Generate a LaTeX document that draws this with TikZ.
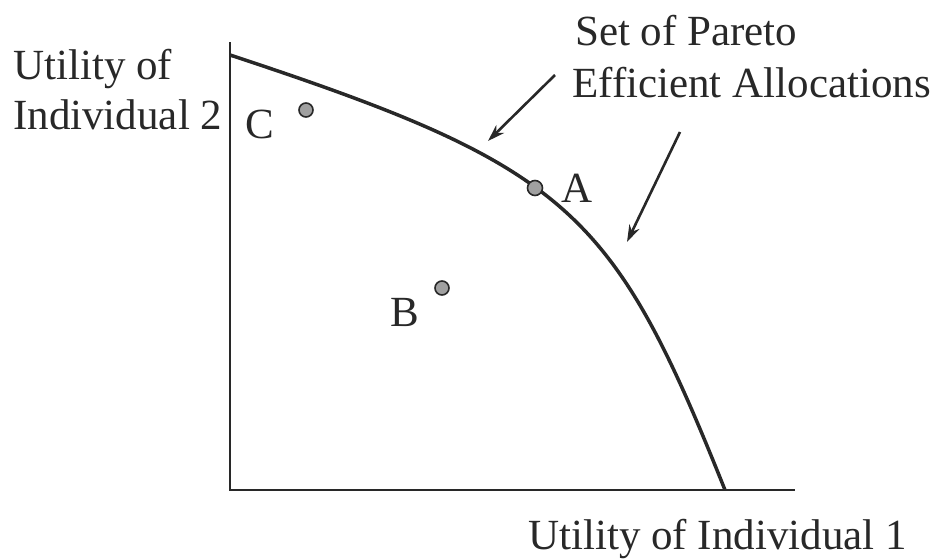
\documentclass[tikz,border=0pt]{standalone}
\usepackage{fontspec}
\setmainfont{Liberation Serif}
\usepackage{tikz}
\usetikzlibrary{arrows.meta,positioning}
\definecolor{inkdark}{RGB}{40,40,40}
\definecolor{dotgray}{RGB}{160,160,160}

\begin{document}
\begin{tikzpicture}[x=1pt,y=-1pt,>={Stealth[length=17pt,width=11pt]},
    every node/.style={font=\fontsize{43}{50}\selectfont,text=inkdark,inner sep=0pt},
    axisline/.style={draw=inkdark,line width=2pt},
    frontier/.style={draw=inkdark,line width=3.5pt},
    alloc/.style={circle,draw=inkdark,fill=dotgray,line width=1.6pt,minimum size=15pt},
    pointer/.style={->,draw=inkdark,line width=2.6pt}]
  \useasboundingbox (0,0) rectangle (938,560);
  % axes
  \coordinate (origin) at (230,490);
  \coordinate (ytop) at (230,42);
  \coordinate (xend) at (795,490);
  \draw[axisline] (ytop) -- (origin) -- (xend);
  % frontier
  \coordinate (ftop) at (230,55);
  \coordinate (fbot) at (725,490);
  \draw[frontier] (ftop) .. controls (570,167) and (613,210) .. (fbot);
  % allocations
  \node[alloc] (dotA) at (535,188) {};
  \node[alloc,minimum size=14pt] (dotB) at (442,288) {};
  \node[alloc,minimum size=14pt] (dotC) at (306,110) {};
  \node (labA) at (577,188) {A};
  \node (labB) at (405,312) {B};
  \node (labC) at (260,124) {C};
  % axis titles
  \node[anchor=base west] (ytitle) at (13,79) {Utility of};
  \node[anchor=base west] (ytitle2) at (13,129) {Individual 2};
  \node[anchor=base west] (xtitle) at (528,549) {Utility of Individual 1};
  % caption and arrows
  \node[anchor=base west] (cap1) at (575,45) {Set of Pareto};
  \node[anchor=base west] (cap2) at (572,97) {Efficient Allocations};
  \coordinate (tail1) at (555,75);
  \coordinate (tip1) at (488,141);
  \coordinate (tail2) at (680,132);
  \coordinate (tip2) at (627,242);
  \draw[pointer] (tail1) -- (tip1);
  \draw[pointer] (tail2) -- (tip2);
\end{tikzpicture}
\end{document}
